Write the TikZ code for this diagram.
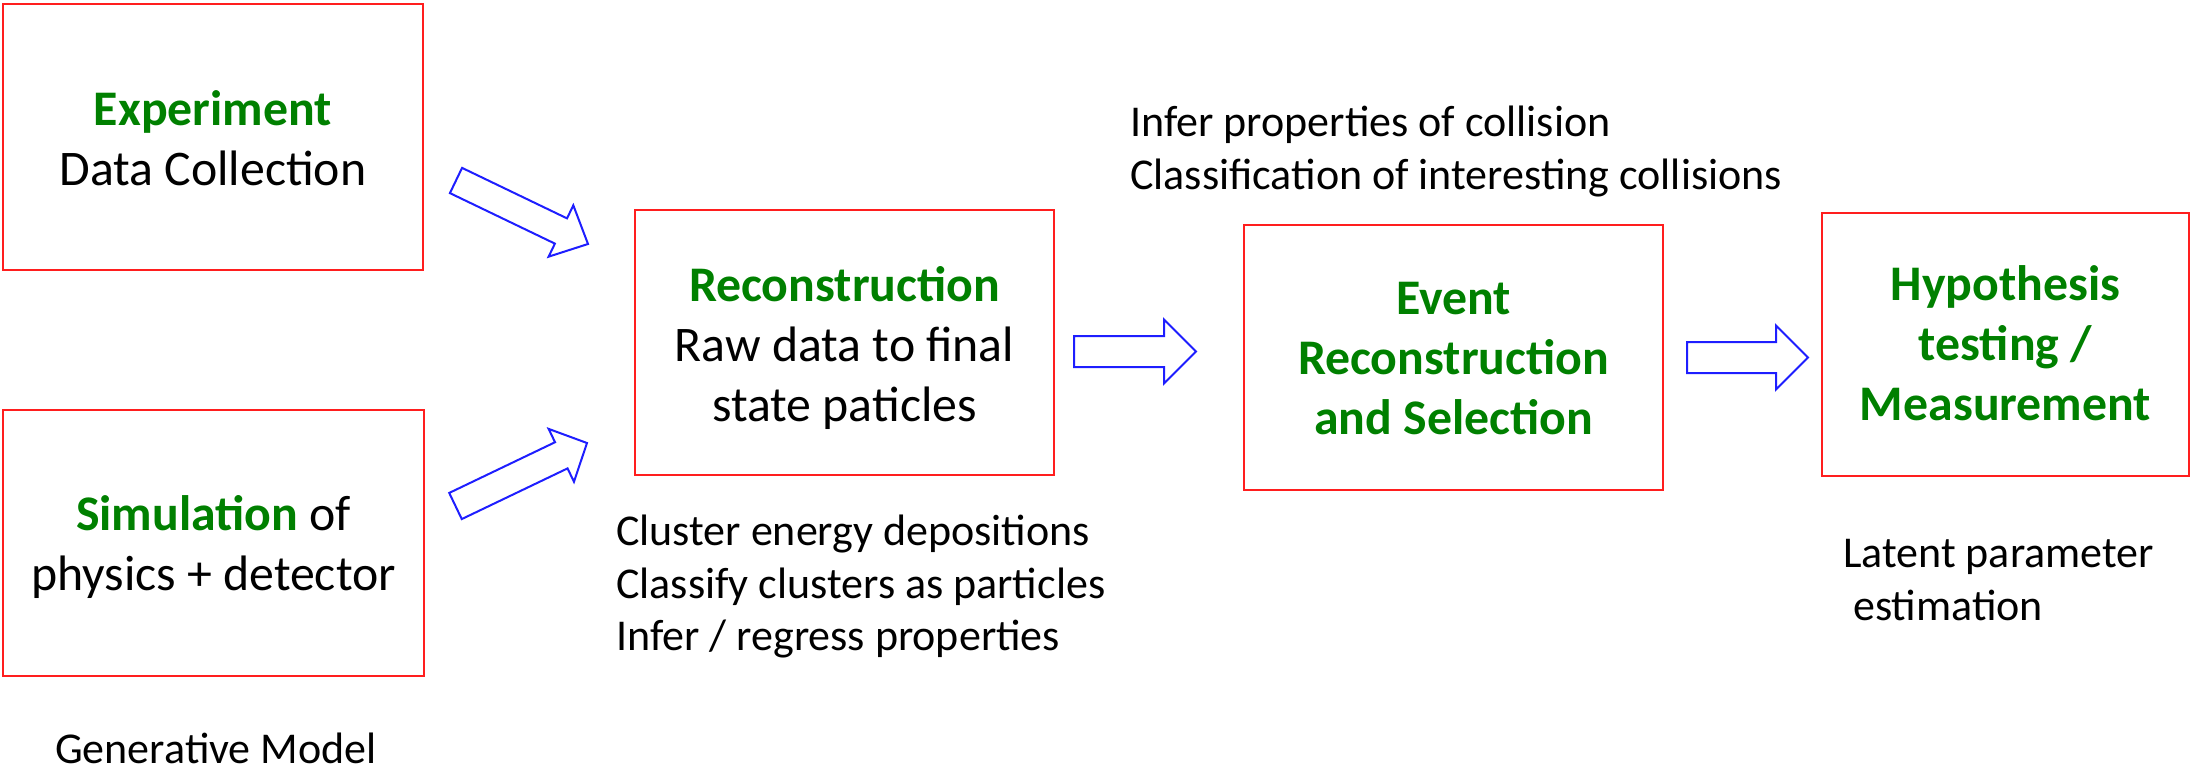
\documentclass[tikz,border=0pt]{standalone}
\usepackage{fontspec}
\setmainfont{Carlito}
\usetikzlibrary{calc}
\definecolor{tgreen}{RGB}{0,128,0}
\definecolor{boxred}{RGB}{255,30,30}
\definecolor{arrblue}{RGB}{30,30,255}
\newcommand\bigtext{\fontsize{49.8}{60}\selectfont}
\newcommand\smalltext{\fontsize{44}{52.5}\selectfont}
% block arrow: #1 tail centre, #2 tip, #3 shaft half width, #4 head half width, #5 head length
\newcommand\blockarrow[5]{%
  \draw[barrow]
    ($(#1)!#3!90:(#2)$)
    -- ($($(#2)!#5!(#1)$)!#3!90:(#2)$)
    -- ($($(#2)!#5!(#1)$)!#4!90:(#2)$)
    -- (#2)
    -- ($($(#2)!#5!(#1)$)!#4!-90:(#2)$)
    -- ($($(#2)!#5!(#1)$)!#3!-90:(#2)$)
    -- ($(#1)!#3!-90:(#2)$)
    -- cycle;}
\begin{document}
\begin{tikzpicture}[x=1pt,y=-1pt,
  box/.style={draw=boxred,line width=2.2pt,rectangle,inner sep=0pt},
  boxtext/.style={align=center,inner sep=0pt,font=\bigtext},
  note/.style={align=left,inner sep=0pt,font=\smalltext},
  barrow/.style={draw=arrblue,line width=2pt,line join=miter}]
\useasboundingbox (0,0) rectangle (2193,773);

% boxes
\node[box,minimum width=420pt,minimum height=266pt] (exp) at (213,137) {};
\node[box,minimum width=421pt,minimum height=266pt] (sim) at (213.5,543) {};
\node[box,minimum width=419pt,minimum height=265pt] (reco) at (844.5,342.5) {};
\node[box,minimum width=419pt,minimum height=265pt] (evt) at (1453.5,357.5) {};
\node[box,minimum width=367pt,minimum height=263pt] (hyp) at (2005.5,344.5) {};

% box texts
\node[boxtext] (expt) at (213,138) {\textcolor{tgreen}{\bfseries Experiment}\\Data Collection};
\node[boxtext] (simt) at (213.5,546.5) {\textcolor{tgreen}{\bfseries Simulation} of\\physics + detector};
\node[boxtext] (recot) at (844.5,348) {\textcolor{tgreen}{\bfseries Reconstruction}\\Raw data to final\\state paticles};
\node[boxtext,text=tgreen,font=\bigtext\bfseries] (evtt) at (1453.5,358.5) {Event\\Reconstruction\\and Selection};
\node[boxtext,text=tgreen,font=\bigtext\bfseries] (hypt) at (2005.5,343) {Hypothesis\\testing /\\Measurement};

% notes
\node[note,anchor=west] (infer) at (1130,151.75) {Infer properties of collision\\Classification of interesting collisions};
\node[note,anchor=west] (cluster) at (616,587) {Cluster energy depositions\\Classify clusters as particles\\Infer / regress properties};
\node[note,anchor=west] (latent) at (1843,580) {Latent parameter\\\hspace*{0.226em}estimation};
\node[note,anchor=base west] (gen) at (55,763) {Generative Model};

% block arrows
\coordinate (a1s) at (456,180.5);
\coordinate (a1e) at (588,244);
\coordinate (a2s) at (455.5,506);
\coordinate (a2e) at (587,443);
\coordinate (a3s) at (1074,351.5);
\coordinate (a3e) at (1196,351.5);
\coordinate (a4s) at (1687,357.5);
\coordinate (a4e) at (1808,357.5);
\blockarrow{a1s}{a1e}{14pt}{28.5pt}{30pt}
\blockarrow{a2s}{a2e}{14.5pt}{29.3pt}{28.5pt}
\blockarrow{a3s}{a3e}{15.5pt}{32pt}{32pt}
\blockarrow{a4s}{a4e}{15.5pt}{32pt}{32pt}
\end{tikzpicture}
\end{document}
